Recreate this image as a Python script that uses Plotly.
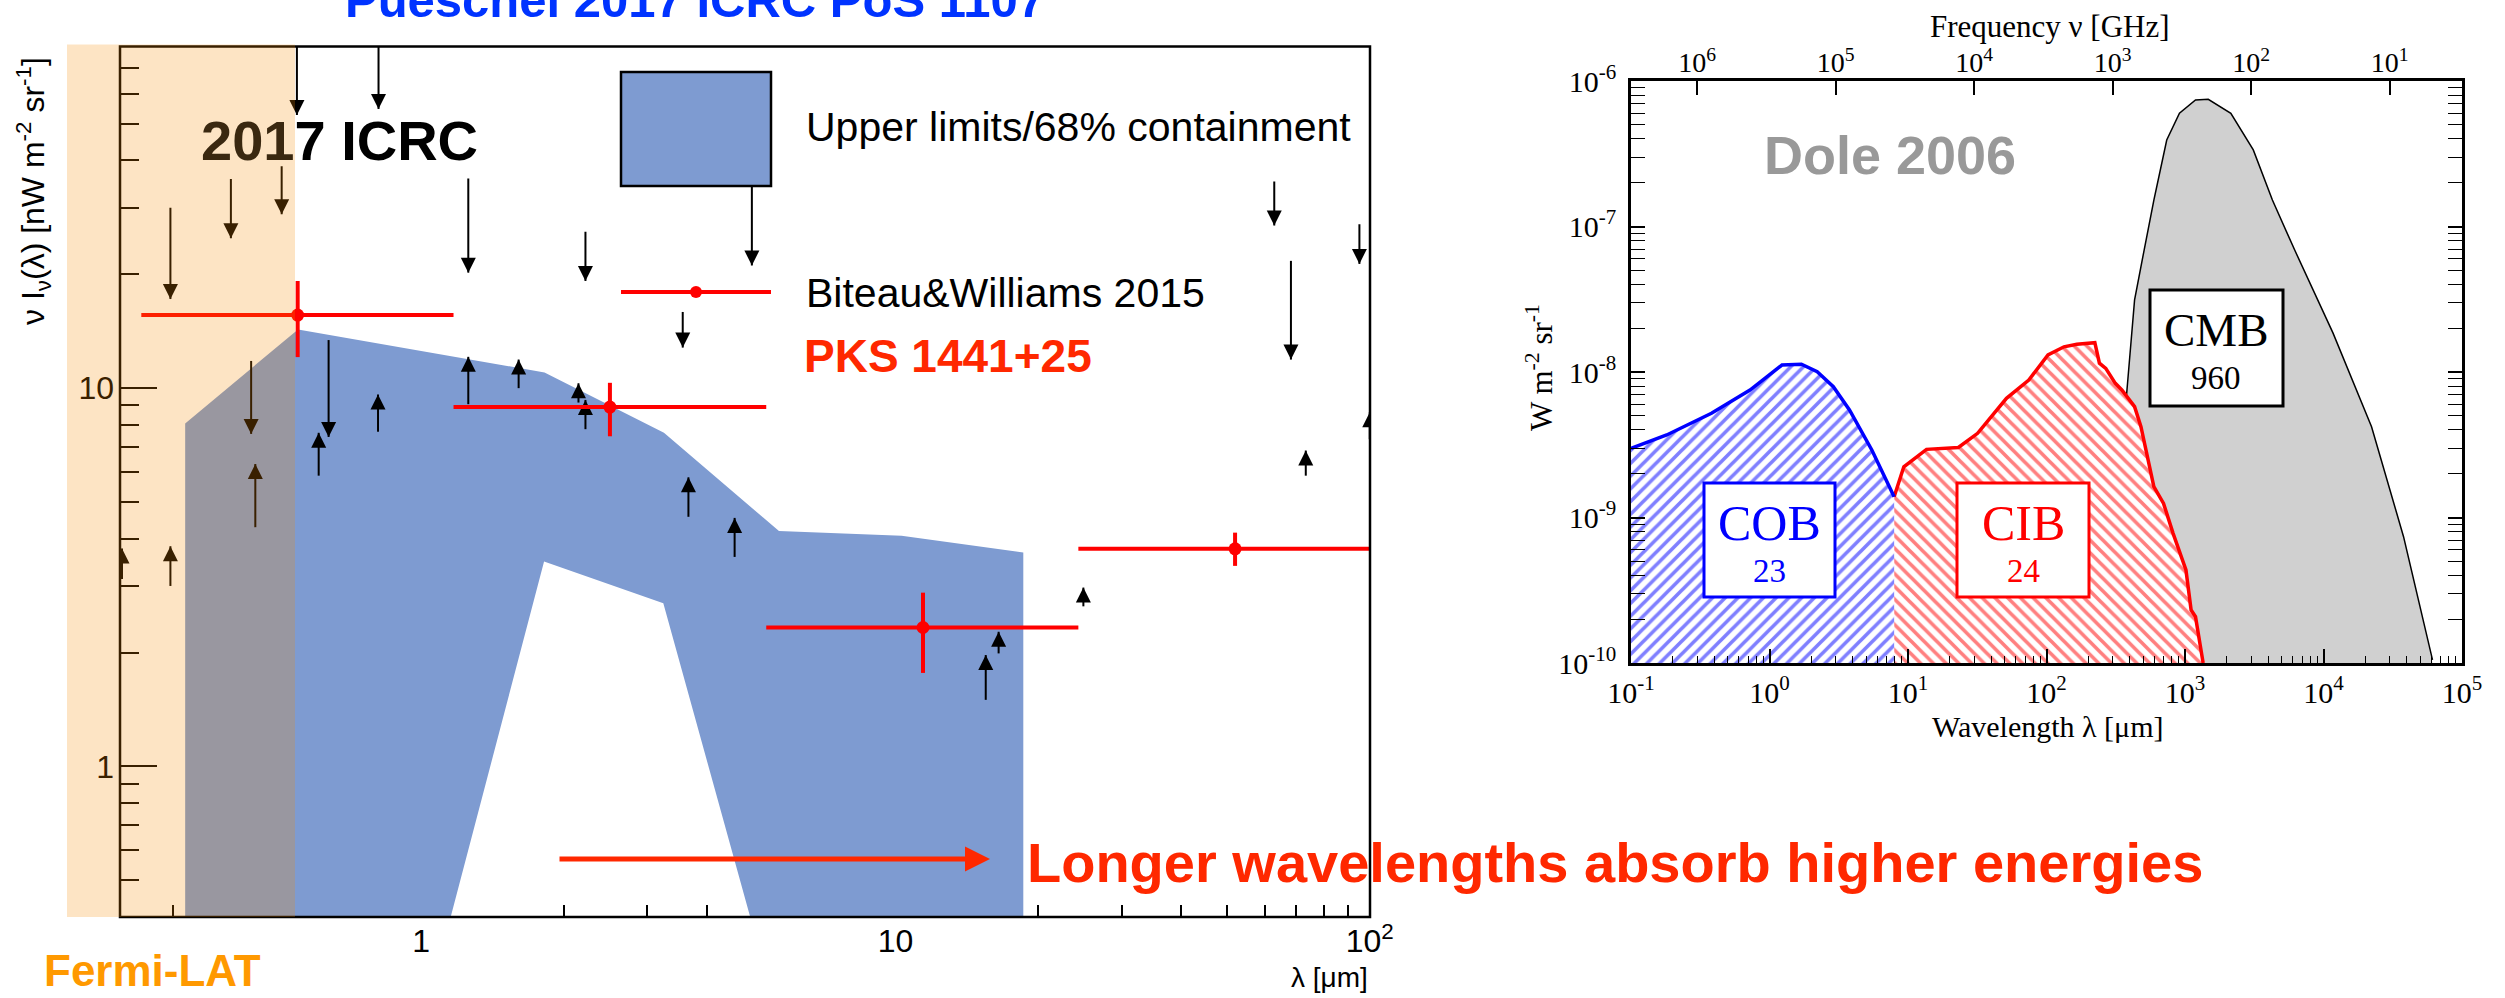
import math
import plotly.graph_objects as go

W, H = 2505, 998
SANS = "Liberation Sans, Arial, sans-serif"
SERIF = "Liberation Serif, Times New Roman, serif"

# ---------------- Left panel: EBL SED (nW m^-2 sr^-1 vs lambda [um]) ----------------
band_upper_lambda = [0.318, 0.55, 1.82, 3.25, 5.68, 10.3, 18.6]
band_upper_value = [8.07, 14.3, 11.0, 7.62, 4.19, 4.07, 3.68]
band_lower_lambda = [0.318, 1.154, 1.816, 3.24, 4.94, 18.6]
band_lower_value = [0.40, 0.40, 3.48, 2.70, 0.40, 0.40]

bw_lambda = [0.549, 2.50, 11.43, 52.0]
bw_lambda_lo = [0.257, 1.17, 5.34, 24.3]
bw_lambda_hi = [1.17, 5.34, 24.3, 110.0]
bw_value = [15.6, 8.91, 2.33, 3.76]
bw_value_lo = [12.08, 7.46, 1.767, 3.39]
bw_value_hi = [19.2, 10.33, 2.88, 4.15]

ul_lambda = [0.547, 0.813, 0.296, 0.397, 0.508, 0.438, 0.638, 1.257, 2.22, 4.98, 3.56, 62.9, 95.1, 68.2]
ul_start = [80, 80, 30.0, 35.7, 38.6, 11.8, 13.4, 35.8, 25.9, 60, 15.9, 35.2, 27.1, 21.7]
ul_tip = [52.7, 54.7, 17.2, 24.9, 28.8, 7.57, 7.43, 20.2, 19.2, 21.1, 12.8, 26.9, 21.3, 11.9]

ll_lambda = [0.447, 0.296, 0.234, 0.608, 0.811, 1.257, 1.605, 2.146, 2.22, 3.66, 4.58, 73.3, 100, 24.9, 16.5, 15.5]
ll_start = [4.29, 3.00, 3.13, 5.87, 7.67, 9.07, 10.0, 9.16, 7.79, 4.57, 3.58, 5.87, 7.33, 2.65, 1.99, 1.50]
ll_tip = [6.30, 3.82, 3.77, 7.62, 9.62, 12.1, 11.9, 10.3, 9.31, 5.81, 4.54, 6.84, 8.63, 2.97, 2.27, 1.97]

FERMI_LAT_EDGE_UM = 0.542

LX_TICKS = [1, 10, 100]
LX_TICKTEXT = ["1", "10", "10<sup>2</sup>"]
LY_TICKS = [1, 10]
LY_TICKTEXT = ["1", "10"]

# ---------------- Right panel: Dole 2006 backgrounds (W m^-2 sr^-1 vs lambda [um]) ----------------
cob_lambda = [0.100, 0.181, 0.381, 0.723, 1.23, 1.70, 2.21, 2.89, 3.78, 5.48, 7.94]
cob_value = [2.99e-9, 3.69e-9, 5.20e-9, 7.52e-9, 1.117e-8, 1.13e-8, 1.005e-8, 7.93e-9, 5.48e-9, 2.91e-9, 1.39e-9]

cib_lambda = [7.94, 9.33, 13.6, 23.1, 31.8, 51.4, 74.5, 102.5, 133.7, 165.6, 223.4, 241.0, 267.9,
              314.1, 349.9, 432.5, 480.8, 595.7, 699.8, 820.4, 1016, 1107, 1191, 1256, 1352]
cib_value = [1.39e-9, 2.23e-9, 2.94e-9, 3.03e-9, 3.79e-9, 6.59e-9, 8.81e-9, 1.31e-8, 1.49e-8, 1.55e-8,
             1.59e-8, 1.15e-8, 1.06e-8, 8.36e-9, 7.52e-9, 5.78e-9, 4.21e-9, 1.63e-9, 1.25e-9, 7.78e-10,
             4.36e-10, 2.31e-10, 2.08e-10, 1.52e-10, 1.0e-10]

cmb_lambda = [269, 316, 381, 432.5, 507, 596, 738, 912, 1191, 1472, 2143, 3112, 4276, 6194,
              11720, 22230, 37840, 61240]
cmb_value = [1e-10, 1e-9, 7.52e-9, 3.13e-8, 6.89e-8, 1.52e-7, 3.93e-7, 6.0e-7, 7.40e-7, 7.48e-7,
             6.0e-7, 3.36e-7, 1.52e-7, 6.89e-8, 1.85e-8, 4.21e-9, 7.38e-10, 1.05e-10]

RX_TICKS = [0.1, 1, 10, 100, 1e3, 1e4, 1e5]
RX_TICKTEXT = ["10<sup>-1</sup>", "10<sup>0</sup>", "10<sup>1</sup>", "10<sup>2</sup>",
               "10<sup>3</sup>", "10<sup>4</sup>", "10<sup>5</sup>"]
FREQ_TICKS_LAMBDA = [0.3, 3, 30, 300, 3000, 30000]
FREQ_TICKTEXT = ["10<sup>6</sup>", "10<sup>5</sup>", "10<sup>4</sup>", "10<sup>3</sup>",
                 "10<sup>2</sup>", "10<sup>1</sup>"]
RY_TICKS = [1e-10, 1e-9, 1e-8, 1e-7, 1e-6]
RY_TICKTEXT = ["10<sup>-10</sup>", "10<sup>-9</sup>", "10<sup>-8</sup>", "10<sup>-7</sup>", "10<sup>-6</sup>"]

# ---------------- geometry ----------------
def px(x):
    return x / W


def py(y):
    return 1 - y / H


LX_RANGE = [-0.635, 2.0005]
LY_RANGE = [math.log10(0.40), math.log10(80)]
LX_DOM = [px(120), px(1370)]
LY_DOM = [py(917), py(46.5)]
RX_DOM = [px(1631), px(2462)]
RY_DOM = [py(663), py(81)]

minor_lx = [k / 10 for k in range(3, 10)] + list(range(2, 10)) + [k * 10 for k in range(2, 10)]
minor_ly = [k / 10 for k in range(4, 10)] + list(range(2, 10)) + [k * 10 for k in range(2, 9)]
minor_rx = [k * 10.0 ** d for d in range(-1, 5) for k in range(2, 10)]
minor_ry = [k * 10.0 ** d for d in range(-10, -6) for k in range(2, 10)]

fig = go.Figure()

fig.add_trace(go.Scatter(
    x=band_upper_lambda + band_lower_lambda[::-1],
    y=band_upper_value + band_lower_value[::-1],
    fill="toself", fillcolor="#7E9BD1", mode="lines", line=dict(width=0),
    hoverinfo="skip", xaxis="x", yaxis="y"))


def segments(lams, a, b):
    xs, ys = [], []
    for l, s, t in zip(lams, a, b):
        xs += [l, l, None]
        ys += [s, t, None]
    return xs, ys


sx, sy = segments(ul_lambda, ul_start, ul_tip)
fig.add_trace(go.Scatter(x=sx, y=sy, mode="lines", line=dict(color="black", width=2),
                         hoverinfo="skip", xaxis="x", yaxis="y"))
sx, sy = segments(ll_lambda, ll_start, ll_tip)
fig.add_trace(go.Scatter(x=sx, y=sy, mode="lines", line=dict(color="black", width=2),
                         hoverinfo="skip", xaxis="x", yaxis="y"))
fig.add_trace(go.Scatter(x=ul_lambda, y=ul_tip, mode="markers",
                         marker=dict(symbol="arrow-down", size=15, color="black", line=dict(width=0)),
                         hoverinfo="skip", xaxis="x", yaxis="y"))
fig.add_trace(go.Scatter(x=ll_lambda, y=ll_tip, mode="markers",
                         marker=dict(symbol="arrow-up", size=15, color="black", line=dict(width=0)),
                         hoverinfo="skip", xaxis="x", yaxis="y"))

fig.add_trace(go.Scatter(
    x=bw_lambda, y=bw_value, mode="markers",
    marker=dict(color="red", size=13, line=dict(width=0)),
    error_x=dict(type="data", symmetric=False,
                 array=[h - c for h, c in zip(bw_lambda_hi, bw_lambda)],
                 arrayminus=[c - l for l, c in zip(bw_lambda_lo, bw_lambda)],
                 color="red", thickness=4, width=0),
    error_y=dict(type="data", symmetric=False,
                 array=[h - c for h, c in zip(bw_value_hi, bw_value)],
                 arrayminus=[c - l for l, c in zip(bw_value_lo, bw_value)],
                 color="red", thickness=4, width=0),
    hoverinfo="skip", xaxis="x", yaxis="y"))

# ---------------- right panel traces ----------------
BOTTOM = 1e-10
fig.add_trace(go.Scatter(
    x=cmb_lambda + [cmb_lambda[-1], cmb_lambda[0]], y=cmb_value + [BOTTOM, BOTTOM],
    fill="toself", fillcolor="#D0D0D0", mode="lines", line=dict(width=0),
    hoverinfo="skip", xaxis="x2", yaxis="y2"))
fig.add_trace(go.Scatter(x=cmb_lambda, y=cmb_value, mode="lines",
                         line=dict(color="black", width=1.5), hoverinfo="skip", xaxis="x2", yaxis="y2"))
fig.add_trace(go.Scatter(
    x=cib_lambda + [cib_lambda[-1], cib_lambda[0]], y=cib_value + [BOTTOM, BOTTOM],
    fill="toself", fillcolor="white", mode="lines", line=dict(width=0),
    fillpattern=dict(shape="\\", fgcolor="red", bgcolor="white", size=9, solidity=0.4),
    hoverinfo="skip", xaxis="x2", yaxis="y2"))
fig.add_trace(go.Scatter(
    x=cob_lambda + [cob_lambda[-1], cob_lambda[0]], y=cob_value + [BOTTOM, BOTTOM],
    fill="toself", fillcolor="white", mode="lines", line=dict(width=0),
    fillpattern=dict(shape="/", fgcolor="blue", bgcolor="white", size=9, solidity=0.4),
    hoverinfo="skip", xaxis="x2", yaxis="y2"))
fig.add_trace(go.Scatter(x=cib_lambda, y=cib_value, mode="lines",
                         line=dict(color="red", width=3.5), hoverinfo="skip", xaxis="x2", yaxis="y2"))
fig.add_trace(go.Scatter(x=cob_lambda, y=cob_value, mode="lines",
                         line=dict(color="blue", width=3.5), hoverinfo="skip", xaxis="x2", yaxis="y2"))
fig.add_trace(go.Scatter(x=[None], y=[None], mode="markers", hoverinfo="skip", xaxis="x3", yaxis="y2"))

# ---------------- layout ----------------
tick_common = dict(showgrid=False, zeroline=False, tickcolor="black", automargin=False)

layout = dict(
    width=W, height=H, autosize=False,
    margin=dict(l=0, r=0, t=0, b=0, pad=0, autoexpand=False),
    paper_bgcolor="white", plot_bgcolor="white", showlegend=False,
    xaxis=dict(type="log", range=LX_RANGE, domain=LX_DOM, anchor="y", showline=False,
               ticks="inside", tickvals=LX_TICKS, ticktext=LX_TICKTEXT, ticklen=22, tickwidth=1.5,
               tickfont=dict(family=SANS, size=32, color="black"), layer="below traces",
               ticklabelstandoff=2,
               minor=dict(ticks="inside", tickvals=minor_lx, ticklen=12, tickwidth=1.5, tickcolor="black"),
               **tick_common),
    yaxis=dict(type="log", range=LY_RANGE, domain=LY_DOM, anchor="x", showline=False,
               ticks="inside", tickvals=LY_TICKS, ticktext=LY_TICKTEXT, ticklen=37, tickwidth=1.5,
               tickfont=dict(family=SANS, size=32, color="black"), layer="below traces",
               ticklabelstandoff=5,
               minor=dict(ticks="inside", tickvals=minor_ly, ticklen=19, tickwidth=1.5, tickcolor="black"),
               **tick_common),
    xaxis2=dict(type="log", range=[-1, 5], domain=RX_DOM, anchor="y2", showline=True, linewidth=2.5,
                linecolor="black", mirror=True, ticks="inside", tickvals=RX_TICKS, ticktext=RX_TICKTEXT,
                ticklen=14, tickwidth=1.5, tickfont=dict(family=SERIF, size=30, color="black"),
                ticklabelstandoff=1,
                minor=dict(ticks="inside", tickvals=minor_rx, ticklen=7, tickwidth=1.2, tickcolor="black"),
                **tick_common),
    xaxis3=dict(type="log", range=[-1, 5], overlaying="x2", side="top", anchor="y2", showline=False,
                ticks="inside", tickvals=FREQ_TICKS_LAMBDA, ticktext=FREQ_TICKTEXT, ticklen=14,
                tickwidth=1.5, tickfont=dict(family=SERIF, size=28, color="black"),
                ticklabelstandoff=2, **tick_common),
    yaxis2=dict(type="log", range=[-10, -6], domain=RY_DOM, anchor="x2", showline=True, linewidth=2.5,
                linecolor="black", mirror="allticks", ticks="inside", tickvals=RY_TICKS,
                ticktext=RY_TICKTEXT, ticklen=14, tickwidth=1.5,
                tickfont=dict(family=SERIF, size=30, color="black"), ticklabelstandoff=6,
                minor=dict(ticks="inside", tickvals=minor_ry, ticklen=7, tickwidth=1.2, tickcolor="black"),
                **tick_common),
)
fig.update_layout(**layout)

fermi_x1 = LX_DOM[0] + (math.log10(FERMI_LAT_EDGE_UM) - LX_RANGE[0]) / (LX_RANGE[1] - LX_RANGE[0]) * (LX_DOM[1] - LX_DOM[0])


def box(x0, x1, y0, y1, color):
    return dict(type="rect", xref="paper", yref="paper", x0=px(x0), x1=px(x1), y0=py(y1), y1=py(y0),
                fillcolor="white", line=dict(color=color, width=3), layer="above")


shapes = [
    dict(type="rect", xref="paper", yref="paper", x0=LX_DOM[0], x1=LX_DOM[1], y0=LY_DOM[0], y1=LY_DOM[1],
         line=dict(color="black", width=2.5), layer="above"),
    dict(type="rect", xref="paper", yref="paper", x0=px(621), x1=px(771), y0=py(186), y1=py(72),
         fillcolor="#7E9BD1", line=dict(color="black", width=2.5), layer="above"),
    dict(type="line", xref="paper", yref="paper", x0=px(621), x1=px(771), y0=py(292), y1=py(292),
         line=dict(color="red", width=4), layer="above"),
    dict(type="circle", xref="paper", yref="paper", x0=px(690), x1=px(702), y0=py(298), y1=py(286),
         fillcolor="red", line=dict(color="red", width=0), layer="above"),
    dict(type="rect", xref="paper", yref="paper", x0=px(67), x1=fermi_x1, y0=LY_DOM[0], y1=py(44.6),
         fillcolor="rgba(247,139,0,0.23)", line=dict(width=0), layer="above"),
    box(1704, 1835, 483, 597, "blue"),
    box(1957, 2089, 483, 597, "red"),
    box(2150, 2283, 290, 406, "black"),
]
fig.update_layout(shapes=shapes)


def ann(text, x, y, size, color="black", family=SANS, xanchor="center", yanchor="middle", **kw):
    d = dict(text=text, x=px(x), y=py(y), xref="paper", yref="paper", showarrow=False,
             font=dict(family=family, size=size, color=color), xanchor=xanchor, yanchor=yanchor)
    d.update(kw)
    return d


RED2 = "rgb(255,40,0)"
annotations = [
    ann("<b>Pueschel 2017 ICRC PoS 1107</b>", 695, 0, 49, color="#0033FF"),
    ann("<b><span style='color:#3a2810'>201</span>7 ICRC</b>", 339, 140, 56),
    ann("Upper limits/68% containment", 804, 127, 41, xanchor="left"),
    ann("Biteau&amp;Williams 2015", 804, 293, 41, xanchor="left"),
    ann("<b>PKS 1441+25</b>", 802, 356, 46, color=RED2, xanchor="left"),
    ann("<b>Longer wavelengths absorb higher energies</b>", 1025, 862, 56, color=RED2, xanchor="left"),
    ann("<b>Fermi-LAT</b>", 152, 970, 44, color="#FF9900"),
    ann("ν I<sub>ν</sub>(λ) [nW m<sup>-2</sup> sr<sup>-1</sup>]", 33, 191, 32, textangle=-90),
    ann("λ [μm]", 1370, 977, 28, xanchor="right"),
    dict(x=px(990), y=py(859), xref="paper", yref="paper", ax=-432, ay=0, text="", showarrow=True,
         arrowhead=2, arrowsize=1, arrowwidth=5, arrowcolor=RED2, standoff=0),
    # right panel
    ann("Frequency ν [GHz]", 2050, 27, 31, family=SERIF),
    ann("Wavelength λ [μm]", 2047, 726, 30, family=SERIF),
    ann("W m<sup>-2</sup> sr<sup>-1</sup>", 1540, 368, 31, family=SERIF, textangle=-90),
    ann("<b>Dole 2006</b>", 1890, 155, 54, color="#999999"),
    ann("COB", 1769, 523, 50, color="blue", family=SERIF),
    ann("23", 1769, 571, 33, color="blue", family=SERIF),
    ann("CIB", 2023, 523, 50, color="red", family=SERIF),
    ann("24", 2023, 571, 33, color="red", family=SERIF),
    ann("CMB", 2216, 330, 47, color="black", family=SERIF),
    ann("960", 2216, 378, 33, color="black", family=SERIF),
]
fig.update_layout(annotations=annotations)

fig.write_html("out.html")
